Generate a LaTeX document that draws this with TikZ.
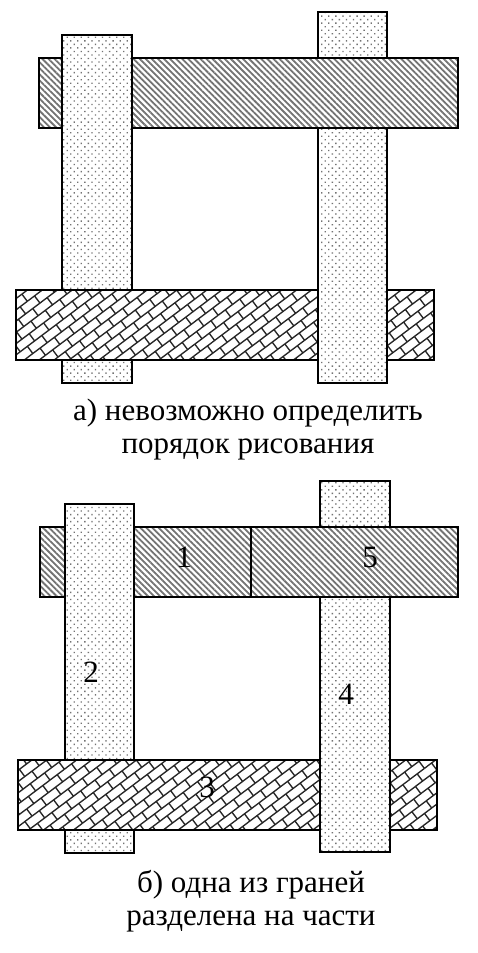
\documentclass[tikz,border=0pt]{standalone}
\usepackage{fontspec}
\setmainfont{Liberation Serif}
\usetikzlibrary{patterns.meta}

\pgfdeclarepattern{
  name=diagbricks,
  type=uncolored,
  bottom left={\pgfpoint{-1pt}{-1pt}},
  top right={\pgfpoint{19pt}{19pt}},
  tile size={\pgfpoint{18pt}{18pt}},
  tile transformation={\pgftransformrotate{37}},
  code={
    \pgfsetlinewidth{1.35pt}
    \pgfpathmoveto{\pgfpoint{0pt}{0pt}}\pgfpathlineto{\pgfpoint{18pt}{0pt}}
    \pgfpathmoveto{\pgfpoint{0pt}{9pt}}\pgfpathlineto{\pgfpoint{18pt}{9pt}}
    \pgfpathmoveto{\pgfpoint{0pt}{0pt}}\pgfpathlineto{\pgfpoint{0pt}{9pt}}
    \pgfpathmoveto{\pgfpoint{9pt}{9pt}}\pgfpathlineto{\pgfpoint{9pt}{18pt}}
    \pgfusepath{stroke}
  }
}

\tikzset{
  barbase/.style={draw, line width=1.8pt, inner sep=0pt, outer sep=0pt,
    anchor=north west, preaction={fill=white}},
  hatchbar/.style={barbase, pattern={Lines[angle=-45,distance=4.3pt,line width=1.8pt]}, pattern color=black!55},
  dotbar/.style={barbase, pattern={Dots[angle=45,distance=5pt,radius=0.95pt]}, pattern color=black!55},
  brickbar/.style={barbase, pattern=diagbricks, pattern color=black!85},
  capt/.style={anchor=base, inner sep=0pt, font=\fontsize{31}{34}\selectfont},
  numlbl/.style={inner sep=0pt, font=\fontsize{31}{34}\selectfont}
}

\begin{document}
\begin{tikzpicture}[x=1pt,y=-1pt]
\useasboundingbox (0,0) rectangle (478,953);

% ---------- (a) ----------
\node[hatchbar, minimum width=419pt, minimum height=70pt] (aTop) at (39,58) {};
\node[dotbar, minimum width=70pt, minimum height=348pt] (aLeft) at (62,35) {};
\node[brickbar, minimum width=418pt, minimum height=70pt] (aBot) at (16,290) {};
\node[dotbar, minimum width=69pt, minimum height=371pt] (aRight) at (318,12) {};
\begin{scope}
  \clip (250,0) rectangle (478,200);
  \node[hatchbar, minimum width=419pt, minimum height=70pt] (aTopB) at (39,58) {};
\end{scope}

\node[capt] (capA1) at (248,420) {а) невозможно определить};
\node[capt] (capA2) at (248,453) {порядок рисования};

% ---------- (b) ----------
\node[hatchbar, minimum width=211pt, minimum height=70pt] (b1) at (40,527) {};
\node[dotbar, minimum width=69pt, minimum height=349pt] (b2) at (65,504) {};
\node[brickbar, minimum width=419pt, minimum height=70pt] (b3) at (18,760) {};
\node[dotbar, minimum width=70pt, minimum height=371pt] (b4) at (320,481) {};
\node[hatchbar, minimum width=207pt, minimum height=70pt] (b5) at (251,527) {};

\node[numlbl] (n1) at (184,557) {1};
\node[numlbl] (n2) at (91,672) {2};
\node[numlbl] (n3) at (207,787) {3};
\node[numlbl] (n4) at (346,694) {4};
\node[numlbl] (n5) at (370,557) {5};

\node[capt] (capB1) at (251,892) {б) одна из граней};
\node[capt] (capB2) at (251,925) {разделена на части};
\end{tikzpicture}
\end{document}
